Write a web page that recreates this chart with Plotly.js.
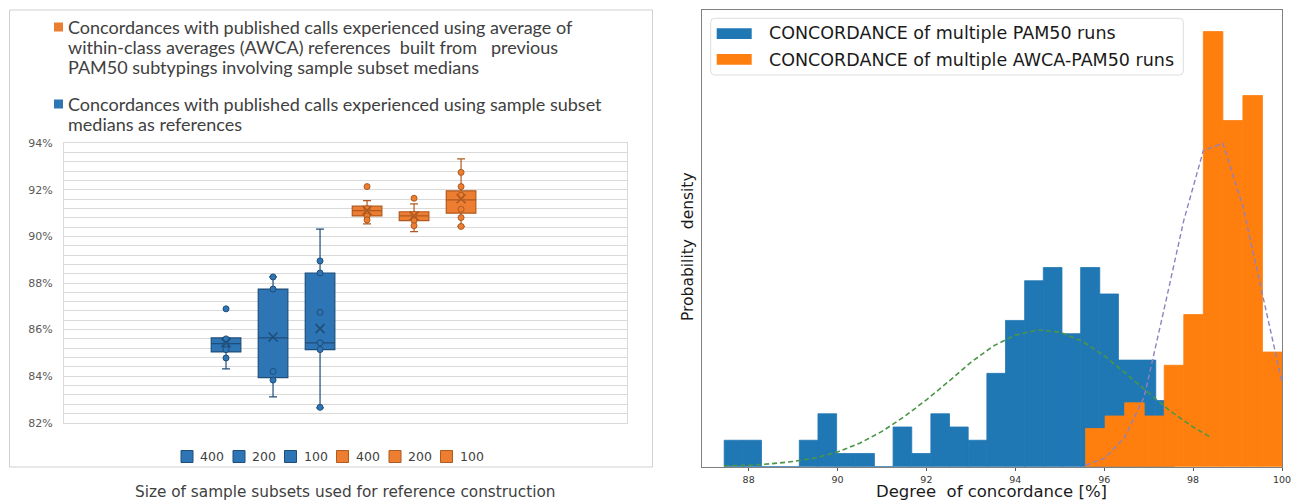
<!DOCTYPE html>
<html><head><meta charset="utf-8">
<script src="https://cdn.plot.ly/plotly-3.0.1.min.js"></script>
<style>html,body{margin:0;padding:0;background:#fff}#chart{width:1301px;height:502px}</style>
</head><body><div id="chart"></div><script>
// ---------- Left panel: box plots (values in %) ----------
const boxKeys = ['B400','B200','B100','A400','A200','A100'];
const boxLabels = ['400','200','100','400','200','100'];
const boxSeries = ['blue','blue','blue','orange','orange','orange'];
const boxLower  = [84.31, 83.11, 82.64, 90.54, 90.21, 90.43];
const boxQ1     = [85.04, 83.94, 85.14, 90.88, 90.68, 91.00];
const boxMedian = [85.40, 85.64, 85.43, 91.11, 90.88, 91.57];
const boxQ3     = [85.64, 87.74, 88.43, 91.30, 91.06, 91.96];
const boxUpper  = [85.66, 88.26, 90.31, 91.54, 91.40, 93.33];
const boxMean   = [85.43, 85.68, 86.04, 91.12, 90.88, 91.62];
const pts400m = [86.89, 85.60, 85.35, 85.14, 84.78];
const pts200m = [88.26, 87.74, 84.20, 83.83];
const pts100m = [88.95, 88.43, 86.74, 85.43, 85.14, 82.66];
const pts400a = [92.14, 91.20, 90.88, 90.71];
const pts200a = [91.64, 90.95, 90.68, 90.46];
const pts100a = [92.75, 92.14, 91.77, 91.17, 90.81, 90.43];
const boxPoints = [pts400m, pts200m, pts100m, pts400a, pts200a, pts100a];
const yTickVals = [82, 84, 86, 88, 90, 92, 94];
const yTickText = ['82%', '84%', '86%', '88%', '90%', '92%', '94%'];

const legendTopLines = [
  'Concordances with published calls experienced using average of',
  'within-class averages (AWCA) references \u00a0built from \u00a0\u00a0previous',
  'PAM50 subtypings involving sample subset medians',
  'Concordances with published calls experienced using sample subset',
  'medians as references'
];
const leftXTitle = 'Size of sample subsets used for reference construction';

// ---------- Right panel: histograms (density) ----------
const blueEdges = [87.45, 87.87, 88.29, 88.72, 89.14, 89.56, 89.98, 90.41, 90.83, 91.25,
                   91.67, 92.10, 92.52, 92.94, 93.36, 93.78, 94.21, 94.63, 95.05, 95.47,
                   95.90, 96.32, 96.74, 97.16, 97.58];
const blueDensity = [0.036, 0.036, 0, 0, 0.036, 0.072, 0.018, 0.018, 0, 0.054,
                     0.018, 0.072, 0.054, 0.036, 0.127, 0.199, 0.253, 0.271, 0.181, 0.271,
                     0.235, 0.145, 0.145, 0.090];
const orangeEdges = [95.58, 96.02, 96.46, 96.90, 97.35, 97.79, 98.23, 98.67, 99.12, 99.56, 100.00];
const orangeDensity = [0.052, 0.069, 0.087, 0.069, 0.138, 0.207, 0.592, 0.471, 0.505, 0.156];
const greenX = [87.45, 88.0, 88.5, 89.0, 89.5, 90.0, 90.5, 91.0, 91.5, 92.0, 92.5, 93.0,
                93.5, 94.0, 94.5, 95.0, 95.5, 96.0, 96.5, 97.0, 97.5, 98.0, 98.4];
const greenY = [0.001, 0.002, 0.004, 0.007, 0.012, 0.020, 0.032, 0.048, 0.068, 0.091, 0.116, 0.142,
                0.164, 0.179, 0.186, 0.183, 0.171, 0.151, 0.126, 0.100, 0.075, 0.054, 0.040];
const purpleX = [95.58, 96.02, 96.46, 96.90, 97.35, 97.79, 98.23, 98.67, 99.12, 99.56, 100.00];
const purpleY = [0.002, 0.012, 0.040, 0.095, 0.215, 0.335, 0.430, 0.440, 0.354, 0.236, 0.115];
const histTicks = [88, 90, 92, 94, 96, 98, 100];
const histNames = ['CONCORDANCE of multiple PAM50 runs', 'CONCORDANCE of multiple AWCA-PAM50 runs'];

// ---------- styles ----------
const FILL = {blue:'#2e75b6', orange:'#ed7d31'};
const EDGE = {blue:'#1f4e79', orange:'#ae5a21'};
const W = 1301, H = 502;
const px = x => x / W, py = y => 1 - y / H;

const traces = [];
boxKeys.forEach((k, i) => {
  const s = boxSeries[i];
  traces.push({type:'box', x:[k], q1:[boxQ1[i]], median:[boxMedian[i]], q3:[boxQ3[i]],
    lowerfence:[boxLower[i]], upperfence:[boxUpper[i]], name:boxLabels[i],
    fillcolor:FILL[s], line:{color:EDGE[s], width:1.2}, whiskerwidth:0.27, boxpoints:false,
    xaxis:'x', yaxis:'y', hoverinfo:'skip'});
});
boxKeys.forEach((k, i) => {
  const s = boxSeries[i];
  traces.push({type:'scatter', mode:'markers', x:boxPoints[i].map(() => k), y:boxPoints[i],
    marker:{symbol:'circle', size:6, color:FILL[s], line:{color:EDGE[s], width:1}},
    xaxis:'x', yaxis:'y', hoverinfo:'skip'});
  traces.push({type:'scatter', mode:'markers', x:[k], y:[boxMean[i]],
    marker:{symbol:'x-thin-open', size:9, color:EDGE[s], line:{color:EDGE[s], width:1.6}},
    xaxis:'x', yaxis:'y', hoverinfo:'skip'});
});
function histTrace(edges, dens, color, name) {
  const c = [], w = [];
  for (let i = 0; i < dens.length; i++) { c.push((edges[i] + edges[i+1]) / 2); w.push(edges[i+1] - edges[i]); }
  return {type:'bar', x:c, y:dens, width:w, name:name, marker:{color:color, line:{color:color, width:0.8}},
          xaxis:'x2', yaxis:'y2', hoverinfo:'skip'};
}
traces.push(histTrace(blueEdges, blueDensity, '#1f77b4', histNames[0]));
traces.push(histTrace(orangeEdges, orangeDensity, '#ff7f0e', histNames[1]));
traces.push({type:'scatter', mode:'lines', x:greenX, y:greenY, line:{color:'#4a9646', width:1.6, dash:'5px,3px'},
  xaxis:'x2', yaxis:'y2', hoverinfo:'skip'});
traces.push({type:'scatter', mode:'lines', x:purpleX, y:purpleY, line:{color:'#9080c0', width:1.4, dash:'5px,3px'},
  xaxis:'x2', yaxis:'y2', hoverinfo:'skip'});

const shapes = [], annotations = [];
function rectPx(x0, y0, x1, y1, fill, line, lw) {
  shapes.push({type:'rect', xref:'paper', yref:'paper', x0:px(x0), x1:px(x1), y0:py(y1), y1:py(y0),
    fillcolor:fill, line:{color:line, width:lw}, layer:'above'});
}
function textPx(x, y, t, font, xa, extra) {
  annotations.push(Object.assign({xref:'paper', yref:'paper', x:px(x), y:py(y), text:t, showarrow:false,
    xanchor:xa || 'left', yanchor:'middle', font:font}, extra || {}));
}
// left frame
shapes.push({type:'rect', xref:'paper', yref:'paper', x0:px(9.5), x1:px(652.5), y0:py(467), y1:py(10),
  line:{color:'#d0d0d0', width:1}, fillcolor:'rgba(0,0,0,0)', layer:'below'});
// left top legend
const lato = {family:'Lato, Carlito, sans-serif', size:18, color:'#404040'};
rectPx(54, 22.5, 63, 31.5, FILL.orange, FILL.orange, 0);
rectPx(54, 99.5, 63, 108.5, FILL.blue, FILL.blue, 0);
const topY = [27, 47, 67, 104, 124];
legendTopLines.forEach((t, i) => textPx(66, topY[i], t, lato));
// bottom legend
const sqX = [181, 233, 284.5, 336.5, 389, 440.5];
const txX = [198, 250, 302, 354, 406, 458];
boxKeys.forEach((k, i) => {
  const s = boxSeries[i];
  rectPx(sqX[i], 450.5, sqX[i] + 12, 462.5, FILL[s], EDGE[s], 1);
  textPx(txX[i], 456.7, boxLabels[i], {family:'DejaVu Sans', size:12.5, color:'#404040'});
});
textPx(345, 491.5, leftXTitle, {family:'DejaVu Sans', size:15.3, color:'#404040'}, 'center');
// right legend box (rounded)
const lx0 = 710.7, lx1 = 1183.3, ly0 = 18.3, ly1 = 75, r = 4;
const P = (x, y) => px(x) + ',' + py(y);
shapes.push({type:'path', xref:'paper', yref:'paper', layer:'above',
  path:'M' + P(lx0 + r, ly0) + ' L' + P(lx1 - r, ly0) + ' Q' + P(lx1, ly0) + ' ' + P(lx1, ly0 + r) +
       ' L' + P(lx1, ly1 - r) + ' Q' + P(lx1, ly1) + ' ' + P(lx1 - r, ly1) +
       ' L' + P(lx0 + r, ly1) + ' Q' + P(lx0, ly1) + ' ' + P(lx0, ly1 - r) +
       ' L' + P(lx0, ly0 + r) + ' Q' + P(lx0, ly0) + ' ' + P(lx0 + r, ly0) + ' Z',
  fillcolor:'rgba(255,255,255,0.8)', line:{color:'#dddddd', width:1}});
rectPx(716.7, 28.2, 751.7, 39, '#1f77b4', '#1f77b4', 0);
rectPx(716.7, 54, 751.7, 64.8, '#ff7f0e', '#ff7f0e', 0);
const dj = {family:'DejaVu Sans', size:17.5, color:'#1a1a1a'};
textPx(767.3, 33.5, histNames[0], dj);
textPx(767.3, 59.5, histNames[1], dj);
textPx(991, 491, 'Degree \u00a0of concordance [%]', {family:'DejaVu Sans', size:16.5, color:'#1a1a1a'}, 'center');
textPx(688, 246, 'Probability \u00a0density', {family:'DejaVu Sans', size:15.5, color:'#1a1a1a'}, 'center', {textangle:-90});

const layout = {
  width:W, height:H, margin:{l:0, r:0, t:0, b:0}, paper_bgcolor:'#ffffff', plot_bgcolor:'rgba(0,0,0,0)',
  showlegend:false, barmode:'overlay', boxmode:'overlay', boxgap:0.1,
  font:{family:'DejaVu Sans', color:'#404040'},
  xaxis:{domain:[px(64), px(627)], type:'category', categoryorder:'array', categoryarray:boxKeys,
    range:[-3.447, 8.53], showticklabels:false, ticks:'', showgrid:false, zeroline:false,
    showline:true, mirror:true, linecolor:'#d9d9d9', linewidth:1, fixedrange:true},
  yaxis:{domain:[py(422.7), py(143.3)], range:[82, 94], tickvals:yTickVals, ticktext:yTickText,
    tickfont:{family:'DejaVu Sans', size:11, color:'#595959'}, ticks:'', ticklabelstandoff:8,
    showgrid:true, gridcolor:'#d9d9d9', gridwidth:1,
    minor:{dtick:0.4, showgrid:true, gridcolor:'#d9d9d9', gridwidth:1},
    zeroline:false, showline:true, mirror:true, linecolor:'#d9d9d9', linewidth:1},
  xaxis2:{domain:[px(702.4), px(1282)], anchor:'y2', range:[86.96, 100], tickvals:histTicks,
    ticks:'outside', ticklen:3.5, tickwidth:0.8, tickcolor:'#333',
    tickfont:{family:'DejaVu Sans', size:9.5, color:'#333'},
    showgrid:false, zeroline:false, showline:true, mirror:true, linecolor:'#808080', linewidth:1},
  yaxis2:{domain:[py(466.7), py(9.5)], anchor:'x2', range:[0, 0.622], showticklabels:false, ticks:'',
    showgrid:false, zeroline:false, showline:true, mirror:true, linecolor:'#808080', linewidth:1},
  shapes:shapes, annotations:annotations
};
Plotly.newPlot('chart', traces, layout, {staticPlot:true, displayModeBar:false});
</script></body></html>
